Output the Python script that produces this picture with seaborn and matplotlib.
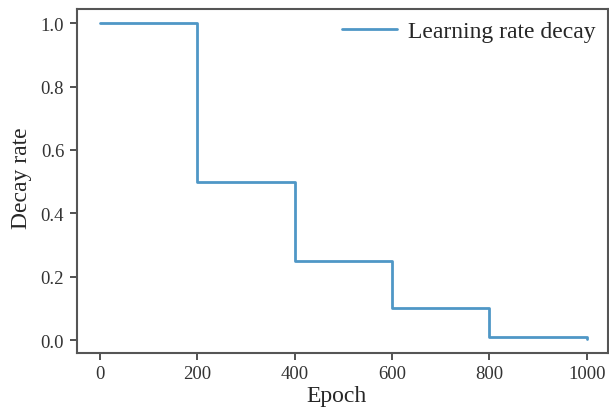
import matplotlib
matplotlib.use("Agg")
import matplotlib.pyplot as plt
import seaborn as sns
import pandas as pd

# Dados
epochs = [0, 200, 400, 600, 800, 1000]
decay_rates = [1.0, 0.5, 0.25, 0.1, 0.01, 0.005]
x_ticks = [0, 200, 400, 600, 800, 1000]
y_ticks = [0.0, 0.2, 0.4, 0.6, 0.8, 1.0]

df = pd.DataFrame({"Epoch": epochs, "Decay rate": decay_rates})

sns.set_theme(style="ticks")
plt.rcParams["font.family"] = ["Liberation Serif", "DejaVu Serif"]

fig = plt.figure(figsize=(6.09, 4.10), dpi=100)
ax = fig.add_axes([0.126, 0.137, 0.872, 0.839])

sns.lineplot(data=df, x="Epoch", y="Decay rate", drawstyle="steps-post",
             color="#4f97c6", linewidth=2, label="Learning rate decay", ax=ax)

ax.set_xticks(x_ticks)
ax.set_yticks(y_ticks)
ax.set_xlim(-47, 1043)
ax.set_ylim(-0.04, 1.045)
ax.tick_params(labelsize=13.5, colors="#333333", length=5, width=1.2, pad=4)
ax.set_xlabel("Epoch", fontsize=17)
ax.set_ylabel("Decay rate", fontsize=17)
ax.xaxis.set_label_coords(0.489, -0.093)
ax.yaxis.set_label_coords(-0.084, 0.51)
for s in ax.spines.values():
    s.set_color("#555555")
    s.set_linewidth(1.5)

leg = ax.legend(loc="upper right", frameon=False, fontsize=17,
                handlelength=2.3, handletextpad=0.5, borderaxespad=0.1)

fig.savefig("out.png", dpi=100)
